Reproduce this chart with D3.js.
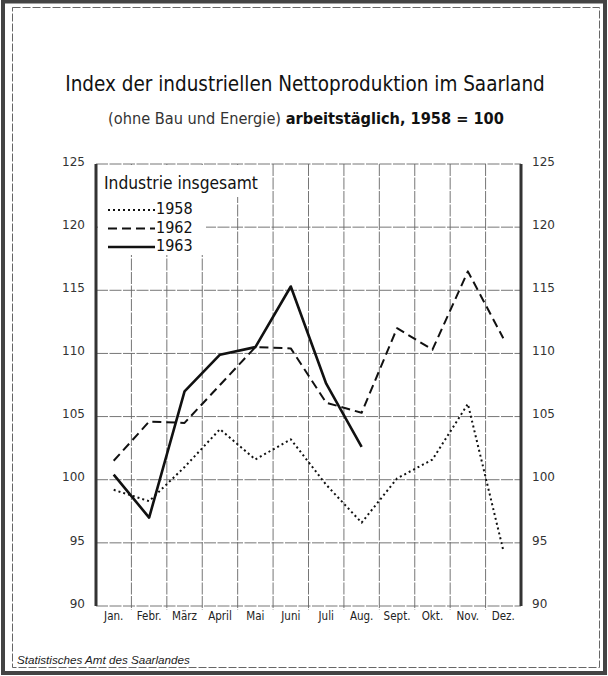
<!DOCTYPE html>
<html>
<head>
<meta charset="utf-8">
<script src="https://d3js.org/d3.v7.min.js"></script>
<style>
  body { margin: 0; background: #fff; }
  .grid line { stroke: #666; stroke-width: 0.9; stroke-dasharray: 12,1.5; }
  .ylab { font-family: "DejaVu Sans", sans-serif; font-size: 12px; fill: #333; }
  .xlab { font-family: "Liberation Sans Narrow", "DejaVu Sans Condensed", sans-serif; font-size: 11.5px; fill: #222; }
  .narrow { font-family: "Liberation Sans Narrow", "DejaVu Sans Condensed", sans-serif; fill: #111; }
</style>
</head>
<body>
<div id="chart"></div>
<script>
// Index der industriellen Nettoproduktion im Saarland, 1958 = 100
var months = ["Jan.", "Febr.", "März", "April", "Mai", "Juni", "Juli", "Aug.", "Sept.", "Okt.", "Nov.", "Dez."];
var v1958 = [99.2, 98.3, 101.0, 104.0, 101.6, 103.2, 99.6, 96.6, 100.1, 101.6, 106.0, 94.4];
var v1962 = [101.5, 104.6, 104.5, 107.5, 110.5, 110.4, 106.1, 105.3, 112.0, 110.3, 116.5, 111.2];
var v1963 = [100.4, 97.0, 107.0, 109.9, 110.5, 115.3, 107.6, 102.6];
var yTicks = [90, 95, 100, 105, 110, 115, 120, 125];

var W = 608, H = 676;
var plot = {left: 96, right: 521, top: 164, bottom: 606};

var svg = d3.select("#chart").append("svg")
    .attr("width", W)
    .attr("height", H);

// shrink a text's font until it has the wanted width
function fit(sel, width) {
  var size = parseFloat(sel.style("font-size"));
  var len = sel.node().getComputedTextLength();
  if (len > 0) sel.style("font-size", (size * width / len) + "px");
  return sel;
}

// frame
svg.append("rect").attr("x", 3).attr("y", 1.5).attr("width", W - 6).attr("height", H - 4.5)
    .attr("fill", "none").attr("stroke", "#444").attr("stroke-width", 4);
svg.append("rect").attr("x", 12.5).attr("y", 7.5).attr("width", 587).attr("height", 660)
    .attr("fill", "none").attr("stroke", "#666").attr("stroke-width", 1).attr("stroke-dasharray", "8,2");

// titles
var t1 = svg.append("text")
    .attr("class", "narrow")
    .attr("x", 305).attr("y", 91)
    .attr("text-anchor", "middle")
    .style("font-size", "24px")
    .text("Index der industriellen Nettoproduktion im Saarland");
fit(t1, 480);

var sub = svg.append("text")
    .attr("class", "narrow")
    .attr("x", 306).attr("y", 124)
    .attr("text-anchor", "middle")
    .style("font-size", "19px");
sub.append("tspan").style("fill", "#333").text("(ohne Bau und Energie) ");
sub.append("tspan").style("font-weight", "bold").text("arbeitstäglich, 1958 = 100");
fit(sub, 396);

// scales
var x = d3.scaleBand().domain(months).range([plot.left, plot.right]).padding(0);
var y = d3.scaleLinear().domain([90, 125]).range([plot.bottom, plot.top]);
var cx = function(m) { return x(m) + x.bandwidth() / 2; };

// grid
var grid = svg.append("g").attr("class", "grid");
grid.selectAll(".h").data(yTicks.slice(1)).enter().append("line")
    .attr("x1", plot.left).attr("x2", plot.right)
    .attr("y1", function(d) { return y(d); }).attr("y2", function(d) { return y(d); });
grid.selectAll(".v").data(months.slice(1)).enter().append("line")
    .attr("x1", function(d) { return x(d); }).attr("x2", function(d) { return x(d); })
    .attr("y1", plot.top).attr("y2", plot.bottom + 4);
grid.append("line")
    .attr("x1", plot.left).attr("x2", plot.right)
    .attr("y1", plot.bottom).attr("y2", plot.bottom);

// white legend box over the grid
svg.append("rect").attr("x", plot.left + 2).attr("y", plot.top + 1).attr("width", 174).attr("height", 32).attr("fill", "#fff");
svg.append("rect").attr("x", plot.left + 2).attr("y", plot.top + 1).attr("width", 108).attr("height", 90).attr("fill", "#fff");

// heavy side axes
[plot.left, plot.right].forEach(function(xx) {
  svg.append("line").attr("x1", xx).attr("x2", xx).attr("y1", plot.top).attr("y2", plot.bottom)
      .attr("stroke", "#333").attr("stroke-width", 3);
});

// y axes labels
var yl = d3.axisLeft(y).tickValues(yTicks).tickSize(0).tickPadding(10);
var gl = svg.append("g").attr("transform", "translate(" + (plot.left - 1) + ",0)").call(yl);
gl.select(".domain").remove();
gl.selectAll("text").attr("class", "ylab").attr("dy", "0.1em");

var yr = d3.axisRight(y).tickValues(yTicks).tickSize(0).tickPadding(10);
var gr = svg.append("g").attr("transform", "translate(" + (plot.right + 1) + ",0)").call(yr);
gr.select(".domain").remove();
gr.selectAll("text").attr("class", "ylab").attr("dy", "0.1em");

// x axis labels
var xa = d3.axisBottom(x).tickSize(0).tickPadding(6);
var gx = svg.append("g").attr("transform", "translate(0," + plot.bottom + ")").call(xa);
gx.select(".domain").remove();
gx.selectAll("text").attr("class", "xlab");

// lines
var line = d3.line()
    .x(function(d) { return cx(d.m); })
    .y(function(d) { return y(d.v); });

function pairs(vals) {
  return vals.map(function(v, i) { return {m: months[i], v: v}; });
}

var series = [
  {name: "1958", vals: v1958, dash: "2,3", width: 2},
  {name: "1962", vals: v1962, dash: "9,5", width: 2},
  {name: "1963", vals: v1963, dash: null, width: 2.6}
];

svg.selectAll(".series").data(series).enter().append("path")
    .attr("class", "series")
    .attr("d", function(d) { return line(pairs(d.vals)); })
    .attr("fill", "none")
    .attr("stroke", "#111")
    .attr("stroke-width", function(d) { return d.width; })
    .attr("stroke-dasharray", function(d) { return d.dash; })
    .attr("stroke-linejoin", "round");

// legend
var lt = svg.append("text")
    .attr("class", "narrow")
    .attr("x", 104).attr("y", 189)
    .style("font-size", "17px")
    .text("Industrie insgesamt");
fit(lt, 154);

var leg = svg.selectAll(".leg").data(series).enter().append("g")
    .attr("class", "leg")
    .attr("transform", function(d, i) { return "translate(0," + (210 + i * 18.5) + ")"; });
leg.append("line")
    .attr("x1", 108).attr("x2", 155)
    .attr("stroke", "#111")
    .attr("stroke-width", function(d) { return d.width; })
    .attr("stroke-dasharray", function(d) { return d.dash; });
leg.append("text")
    .attr("class", "narrow")
    .attr("x", 156).attr("y", 4)
    .style("font-size", "16px")
    .text(function(d) { return d.name; });

// source
var src = svg.append("text")
    .attr("x", 17).attr("y", 664)
    .style("font-family", "'Liberation Sans', sans-serif")
    .style("font-style", "italic")
    .style("font-size", "11px").style("fill", "#222")
    .text("Statistisches Amt des Saarlandes");
fit(src, 173);
</script>
</body>
</html>
